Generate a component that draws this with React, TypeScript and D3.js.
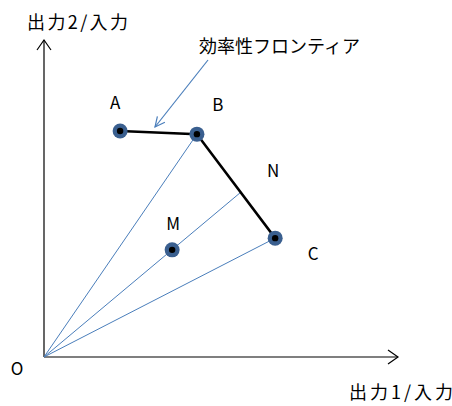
import React from "react";
import { scaleLinear, line } from "d3";

const width = 452;
const height = 406;

// DMU points in (output1/input, output2/input) space
const dmuNames = ["A", "B", "C", "M"];
const dmuX = [21.5, 43.2, 65.3, 36.2];
const dmuY = [71.3, 70.3, 37.5, 33.8];
const frontier = ["A", "B", "C"];
const rays = ["B", "C"];
// projection of M onto the frontier
const nPoint = [55.4, 51.8];

const xLabel = "出力1/入力";
const yLabel = "出力2/入力";
const note = "効率性フロンティア";

const font = "'Noto Sans CJK JP', 'Noto Sans', sans-serif";

export default function App() {
  const x = scaleLinear().domain([0, 100]).range([44, 398]);
  const y = scaleLinear().domain([0, 100]).range([357, 40]);
  const pt = (n: string) => {
    const i = dmuNames.indexOf(n);
    return [dmuX[i], dmuY[i]] as [number, number];
  };
  const path = line<[number, number]>()
    .x((d) => x(d[0]))
    .y((d) => y(d[1]));

  const labelOffset: Record<string, [number, number]> = {
    A: [-5, -27],
    B: [21, -28],
    C: [38, 17],
    M: [1, -24],
  };

  // annotation arrow
  const ax0 = 208, ay0 = 60, ax1 = 155, ay1 = 127;
  const ang = Math.atan2(ay1 - ay0, ax1 - ax0);
  const head = (a: number) => [ax1 - 11 * Math.cos(ang + a), ay1 - 11 * Math.sin(ang + a)];
  const h1 = head(0.45), h2 = head(-0.45);

  return (
    <svg width={width} height={height} style={{ position: "absolute", left: 0, top: 0, background: "#fff" }}>
      {/* axes */}
      <g stroke="#000" strokeWidth={1.2} fill="none">
        <line x1={x(0)} y1={y(0)} x2={x(100)} y2={y(0)} />
        <line x1={x(0)} y1={y(0)} x2={x(0)} y2={y(100)} />
        <polyline points={`${x(100) - 10},${y(0) - 7} ${x(100)},${y(0)} ${x(100) - 10},${y(0) + 7}`} />
        <polyline points={`${x(0) - 7},${y(100) + 10} ${x(0)},${y(100)} ${x(0) + 7},${y(100) + 10}`} />
      </g>
      {/* rays from origin */}
      <g stroke="#4a7ebb" strokeWidth={1} fill="none">
        {rays.map((n) => (
          <path key={n} d={path([[0, 0], pt(n)])!} />
        ))}
        <path d={path([[0, 0], nPoint as [number, number]])!} />
      </g>
      {/* efficiency frontier */}
      <path d={path(frontier.map(pt))!} stroke="#000" strokeWidth={2.5} fill="none" />
      {/* points */}
      {dmuNames.map((n, i) => (
        <g key={n}>
          <circle cx={x(dmuX[i])} cy={y(dmuY[i])} r={7.5} fill="#3a5f8f" />
          <circle cx={x(dmuX[i])} cy={y(dmuY[i])} r={3.2} fill="#000" />
          <text
            x={x(dmuX[i]) + labelOffset[n][0]}
            y={y(dmuY[i]) + labelOffset[n][1]}
            fontFamily={font}
            fontSize={17}
            textAnchor="middle"
            dominantBaseline="middle"
          >
            {n}
          </text>
        </g>
      ))}
      <text x={x(nPoint[0]) + 33} y={y(nPoint[1]) - 20} fontFamily={font} fontSize={17} textAnchor="middle" dominantBaseline="middle">
        N
      </text>
      <text x={17} y={370} fontFamily={font} fontSize={17} textAnchor="middle" dominantBaseline="middle">
        O
      </text>
      {/* axis labels */}
      <text x={27} y={24} fontFamily={font} fontSize={18} dominantBaseline="middle" textLength={101} lengthAdjust="spacing">
        {yLabel}
      </text>
      <text x={349} y={394} fontFamily={font} fontSize={18} dominantBaseline="middle" textLength={104} lengthAdjust="spacing">
        {xLabel}
      </text>
      {/* annotation */}
      <text x={199} y={48} fontFamily={font} fontSize={18} dominantBaseline="middle" textLength={161} lengthAdjust="spacing">
        {note}
      </text>
      <g stroke="#4a7ebb" strokeWidth={1.2} fill="none">
        <line x1={ax0} y1={ay0} x2={ax1} y2={ay1} />
        <polyline points={`${h1[0]},${h1[1]} ${ax1},${ay1} ${h2[0]},${h2[1]}`} />
      </g>
    </svg>
  );
}
